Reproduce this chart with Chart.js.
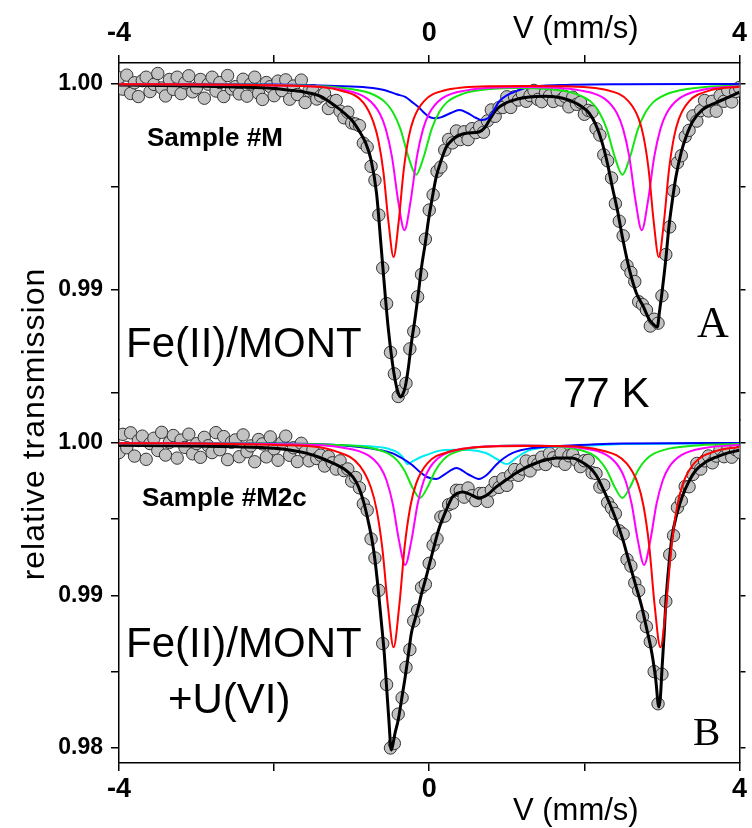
<!DOCTYPE html>
<html>
<head>
<meta charset="utf-8">
<script src="https://cdn.jsdelivr.net/npm/chart.js@4.4.1/dist/chart.umd.min.js"></script>
<style>
  html, body { margin: 0; padding: 0; background: #fff; }
  #wrap { width: 752px; height: 828px; }
</style>
</head>
<body>
<div id="wrap"><canvas id="spectra" width="752" height="828"></canvas></div>
<script>
const SANS = "'Liberation Sans', Arial, Helvetica, sans-serif";
const SERIF = "'Liberation Serif', 'Times New Roman', serif";
Chart.defaults.font.family = SANS;
Chart.defaults.color = '#000';

// Velocity channels (mm/s), shared by both spectra
const velocity = [
  -4,-3.95,-3.9,-3.85,-3.8,-3.75,-3.7,-3.65,-3.6,-3.55,
  -3.5,-3.45,-3.4,-3.35,-3.3,-3.25,-3.2,-3.15,-3.1,-3.05,
  -3,-2.95,-2.9,-2.85,-2.8,-2.75,-2.7,-2.65,-2.6,-2.55,
  -2.5,-2.45,-2.4,-2.35,-2.3,-2.25,-2.2,-2.15,-2.1,-2.05,
  -2,-1.95,-1.9,-1.85,-1.8,-1.75,-1.7,-1.65,-1.6,-1.55,
  -1.5,-1.45,-1.4,-1.35,-1.3,-1.25,-1.2,-1.15,-1.1,-1.05,
  -1,-0.95,-0.9,-0.85,-0.8,-0.75,-0.7,-0.65,-0.6,-0.55,
  -0.5,-0.45,-0.4,-0.35,-0.3,-0.25,-0.2,-0.15,-0.1,-0.05,
  0,0.05,0.1,0.15,0.2,0.25,0.3,0.35,0.4,0.45,
  0.5,0.55,0.6,0.65,0.7,0.75,0.8,0.85,0.9,0.95,
  1,1.05,1.1,1.15,1.2,1.25,1.3,1.35,1.4,1.45,
  1.5,1.55,1.6,1.65,1.7,1.75,1.8,1.85,1.9,1.95,
  2,2.05,2.1,2.15,2.2,2.25,2.3,2.35,2.4,2.45,
  2.5,2.55,2.6,2.65,2.7,2.75,2.8,2.85,2.9,2.95,
  3,3.05,3.1,3.15,3.2,3.25,3.3,3.35,3.4,3.45,
  3.5,3.55,3.6,3.65,3.7,3.75,3.8,3.85,3.9,3.95,
  4
];

// Sample #M, measured relative transmission
const transA = [
  1.0003,.99975,1.00043,.99954,1.00006,.99939,1.00016,1.00033,.99963,.99998,
  1.00051,.99981,.99942,1.00022,.99974,1.00033,.99953,1.00006,1.0004,.99962,
  .99982,1.00022,.99931,.99999,1.00033,.99966,1.00007,.99939,1.00041,.99976,
  .99987,.99952,1.00023,.99941,1.0,1.00033,.99955,.99925,1.00007,.99987,
  .99943,1.00014,.99968,1.0002,.99926,.9999,.99949,1.00019,.9991,.99967,
  .99968,.99927,.99942,.99954,.99881,.99915,.9992,.99868,.99836,.99863,
  .99811,.99806,.99798,.99713,.99694,.996,.99533,.99364,.99107,.98934,
  .98697,.98593,.98483,.98512,.98547,.98714,.98799,.98967,.99075,.99247,
  .99388,.99462,.99576,.99597,.99679,.99731,.99714,.99772,.9973,.99768,
  .9973,.99783,.99764,.99793,.99766,.99821,.99874,.99843,.99885,.99886,
  .99938,.99886,.99938,.99922,.99953,.99916,.99944,.99969,.99925,.99914,
  .99958,.99943,.99915,.99964,.99922,.9994,.99889,.99936,.99901,.99911,
  .99853,.99872,.99865,.99783,.99752,.99656,.99627,.99544,.99419,.99334,
  .99263,.99118,.99085,.99041,.98943,.98929,.98903,.98825,.98858,.98839,
  .98972,.99172,.99306,.99482,.99618,.99652,.99745,.99775,.99845,.9982,
  .99871,.9992,.99869,.99916,.99868,.99944,.99916,.99969,.99913,.99963,
  .99983
];

// Sample #M2c, measured relative transmission
const transB = [
  .99937,1.00057,.99969,1.00067,.99914,1.00016,1.00045,.99893,.99996,1.00031,
  .99951,1.0007,.99921,1.00004,1.00049,.99901,1.00019,.99971,1.00058,.99929,
  .99996,.99906,1.00037,.99982,.99937,1.00068,.99956,1.00042,.99891,1.00005,
  1.0002,.9991,1.00053,.99943,.99981,.99877,1.00023,.99994,.99909,1.0004,
  .99962,.99887,1.00004,1.00045,.99919,.99969,.99878,.99998,.99941,.99883,
  .99955,.99898,.9992,.99849,.99911,.9987,.99829,.99883,.99819,.9983,
  .9975,.99774,.99706,.99601,.99559,.99371,.99246,.99034,.98685,.98416,
  .98,.9803,.98222,.98329,.98529,.98645,.98833,.98903,.99052,.99073,
  .99211,.9933,.99371,.99515,.99521,.99595,.99606,.9969,.99689,.99645,
  .99705,.99654,.99622,.99669,.99669,.99617,.99691,.99741,.99709,.99765,
  .99722,.99791,.99826,.99788,.99829,.99882,.99817,.9988,.99862,.99907,
  .99859,.99931,.99903,.99883,.99934,.9986,.99916,.99925,.99885,.99845,
  .99884,.99886,.99805,.998,.99711,.99724,.9961,.99574,.99537,.99424,
  .99403,.99236,.99193,.99083,.99032,.98863,.98796,.98697,.98501,.9829,
  .98484,.98962,.99268,.99393,.99577,.99621,.99715,.99713,.99794,.99866,
  .99829,.99883,.99915,.9987,.99914,.99959,.9991,.99962,.99907,.99956,
  .99939
];

// Fitted envelopes and subspectra, [velocity, transmission]
const fitA = [[-4,.99995],[-3,.9999],[-2.5,.99985],[-2,.99978],[-1.8,.9997],[-1.6,.9996],[-1.4,.9994],[-1.2,.9989],[-1.1,.9986],[-1,.99825],[-0.9,.9977],[-0.82,.99714],[-0.75,.99631],[-0.68,.99471],[-0.62,.99209],[-0.57,.98985],[-0.53,.9882],[-0.48,.9866],[-0.44,.98563],[-0.4,.985],[-0.37,.98481],[-0.34,.98495],[-0.31,.98529],[-0.27,.9862],[-0.23,.98743],[-0.18,.9887],[-0.14,.98985],[-0.1,.9911],[-0.05,.9923],[-0.01,.9934],[0.04,.9945],[0.09,.99549],[0.15,.99625],[0.22,.99694],[0.3,.9973],[0.39,.99752],[0.5,.99762],[0.64,.99767],[0.72,.9979],[0.8,.9984],[0.86,.99874],[1,.9991],[1.15,.99928],[1.29,.99937],[1.5,.9994],[1.71,.99932],[1.9,.99905],[2.06,.99859],[2.15,.998],[2.23,.99714],[2.3,.9961],[2.36,.995],[2.43,.9938],[2.49,.99257],[2.58,.991],[2.67,.98985],[2.76,.9892],[2.84,.98854],[2.9,.9883],[2.94,.9882],[2.97,.989],[3,.98985],[3.05,.9915],[3.09,.99306],[3.14,.9945],[3.18,.99549],[3.25,.9967],[3.31,.99743],[3.4,.9982],[3.52,.99874],[3.7,.9991],[3.87,.99937],[4,.99961]];
const redA = [[-4,.99999],[-1.76,.99991],[-1.11,.99965],[-0.85,.9991],[-0.72,.99815],[-0.655,.99725],[-0.59,.9957],[-0.525,.99328],[-0.46,.9916],[-0.395,.99328],[-0.33,.9958],[-0.265,.99741],[-0.2,.99832],[-0.07,.99916],[0.19,.99968],[0.84,.99989],[1.25,.9999],[1.66,.99989],[2.31,.99968],[2.57,.99916],[2.7,.99832],[2.765,.99741],[2.83,.9958],[2.895,.99328],[2.96,.9916],[3.025,.99328],[3.09,.9958],[3.155,.99741],[3.22,.99832],[3.35,.99916],[3.61,.99968],[4,.99987]];
const magentaA = [[-4,.99999],[-1.92,.99993],[-1.12,.99972],[-0.8,.99929],[-0.64,.99858],[-0.56,.99781],[-0.48,.99645],[-0.4,.99432],[-0.32,.9929],[-0.24,.99432],[-0.16,.99645],[-0.08,.99781],[0,.99858],[0.16,.99929],[0.48,.99969],[1.21,.99985],[1.94,.99969],[2.26,.99929],[2.42,.99858],[2.5,.99781],[2.58,.99645],[2.66,.99432],[2.74,.9929],[2.82,.99432],[2.9,.99645],[2.98,.99781],[3.06,.99858],[3.22,.99929],[3.54,.99973],[4,.99989]];
const greenA = [[-4,.99999],[-2.17,.99996],[-1.17,.99983],[-0.77,.99956],[-0.57,.99912],[-0.47,.99864],[-0.37,.9978],[-0.27,.99648],[-0.17,.9956],[-0.07,.99648],[0.03,.9978],[0.13,.99864],[0.23,.99912],[0.43,.99952],[0.83,.99977],[1.16,.99981],[1.49,.99977],[1.89,.99952],[2.09,.99912],[2.19,.99864],[2.29,.9978],[2.39,.99648],[2.49,.9956],[2.59,.99648],[2.69,.9978],[2.79,.99864],[2.89,.99912],[3.09,.99955],[3.49,.99983],[4,.99992]];
const blueA = [[-4,1],[-2,.99997],[-1.2,.9999],[-0.8,.99983],[-0.57,.9997],[-0.42,.9995],[-0.31,.99937],[-0.22,.99912],[-0.14,.99888],[-0.06,.99858],[0,.9984],[0.06,.99834],[0.15,.99838],[0.27,.99858],[0.39,.99874],[0.5,.99858],[0.6,.99836],[0.68,.99825],[0.76,.99835],[0.82,.99865],[0.9,.99915],[1,.99945],[1.1,.99962],[1.29,.99985],[1.71,.99995],[2.5,.99999],[4,1]];

const fitB = [[-4,.99985],[-3,.9998],[-2.5,.99975],[-2,.99965],[-1.8,.99954],[-1.6,.99935],[-1.43,.99908],[-1.25,.9987],[-1.08,.99823],[-0.98,.99775],[-0.91,.99711],[-0.85,.9962],[-0.79,.99495],[-0.74,.9937],[-0.7,.99233],[-0.66,.9905],[-0.62,.98839],[-0.58,.9862],[-0.55,.984],[-0.52,.9818],[-0.49,.97987],[-0.47,.9802],[-0.44,.981],[-0.4,.98184],[-0.35,.9834],[-0.31,.98466],[-0.27,.9861],[-0.23,.98754],[-0.18,.9885],[-0.14,.98925],[-0.1,.9901],[-0.05,.99102],[0,.992],[0.05,.99298],[0.12,.9943],[0.22,.99561],[0.3,.99646],[0.36,.9967],[0.43,.99679],[0.52,.99665],[0.64,.99639],[0.75,.9966],[0.86,.99711],[1,.9976],[1.12,.99803],[1.25,.9984],[1.38,.99869],[1.5,.99888],[1.64,.99902],[1.84,.99902],[1.95,.9988],[2.06,.99843],[2.15,.9979],[2.23,.99711],[2.32,.9961],[2.41,.99495],[2.5,.9936],[2.58,.99213],[2.66,.9907],[2.74,.98925],[2.8,.9879],[2.87,.98623],[2.92,.9845],[2.96,.98269],[2.98,.9833],[3,.98511],[3.03,.9876],[3.05,.98951],[3.09,.992],[3.13,.99384],[3.19,.9953],[3.26,.99646],[3.35,.9975],[3.44,.99823],[3.55,.9987],[3.7,.99908],[3.85,.99935],[4,.99952]];
const redB = [[-4,.99999],[-1.91,.99986],[-1.185,.99942],[-0.895,.9985],[-0.75,.99705],[-0.6775,.9956],[-0.605,.9931],[-0.5325,.98928],[-0.46,.9866],[-0.3875,.98928],[-0.315,.9933],[-0.2425,.99587],[-0.17,.99732],[-0.025,.99866],[0.265,.99944],[0.9,.99979],[1.26,.99981],[1.6,.9998],[2.255,.99948],[2.545,.99866],[2.69,.99732],[2.7625,.99587],[2.835,.9933],[2.9075,.98928],[2.98,.9866],[3.0525,.98928],[3.125,.9933],[3.1975,.99587],[3.27,.99732],[3.415,.99866],[3.705,.99948],[4,.99973]];
const magentaB = [[-4,.99999],[-1.91,.99992],[-1.11,.99969],[-0.79,.9992],[-0.63,.9984],[-0.55,.99754],[-0.47,.996],[-0.39,.9936],[-0.31,.992],[-0.23,.9936],[-0.15,.996],[-0.07,.99754],[0.01,.9984],[0.17,.9992],[0.49,.99966],[1.23,.99983],[1.97,.99966],[2.29,.9992],[2.45,.9984],[2.53,.99754],[2.61,.996],[2.69,.9936],[2.77,.992],[2.85,.9936],[2.93,.996],[3.01,.99754],[3.09,.9984],[3.25,.9992],[3.57,.99969],[4,.99987]];
const greenB = [[-4,.99999],[-2.12,.99996],[-1.12,.99986],[-0.72,.99964],[-0.52,.99928],[-0.42,.99889],[-0.32,.9982],[-0.22,.99712],[-0.12,.9964],[-0.02,.99712],[0.08,.9982],[0.18,.99889],[0.28,.99928],[0.48,.9996],[0.88,.99981],[1.185,.99984],[1.49,.99981],[1.89,.9996],[2.09,.99928],[2.19,.99889],[2.29,.9982],[2.39,.99712],[2.49,.9964],[2.59,.99712],[2.69,.9982],[2.79,.99889],[2.89,.99928],[3.09,.99963],[3.49,.99986],[4,.99993]];
const blueB = [[-4,1],[-2,.99997],[-1.3,.9999],[-0.9,.99974],[-0.65,.99955],[-0.48,.99934],[-0.35,.999],[-0.22,.99856],[-0.12,.9981],[-0.03,.99777],[0.09,.99764],[0.2,.99795],[0.35,.99836],[0.5,.99795],[0.64,.99764],[0.75,.99795],[0.86,.99856],[0.96,.999],[1.07,.99934],[1.33,.99967],[1.68,.9998],[2.5,.99997],[4,1]];
const cyanB = [[-4,.99998],[-2,.99993],[-1.3,.99987],[-0.9,.99982],[-0.6,.9997],[-0.48,.99954],[-0.4,.99935],[-0.34,.99905],[-0.28,.99862],[-0.22,.99878],[-0.12,.99905],[-0.04,.99921],[0.17,.99952],[0.35,.99955],[0.52,.99954],[0.73,.99934],[0.87,.99895],[1,.99862],[1.12,.99902],[1.22,.99935],[1.29,.99952],[1.59,.99974],[1.93,.9998],[2.5,.99993],[4,.99998]];

// Tick values
const xTicks = [-4, -2, 0, 2, 4];
const xLabelled = [-4, 0, 4];
const yTicksA = [0.985, 0.99, 0.995, 1.0];
const yLabelledA = [0.99, 1.0];
const yTicksB = [0.98, 0.985, 0.99, 0.995, 1.0];
const yLabelledB = [0.98, 0.99, 1.0];

const toXY = pairs => pairs.map(p => ({ x: p[0], y: p[1] }));
const measured = vals => vals.map((t, i) => ({ x: velocity[i], y: t }));

function pointSet(vals, axis) {
    return {
        data: measured(vals),
        xAxisID: 'x',
        yAxisID: axis,
        showLine: false,
        pointRadius: 6.2,
        pointBackgroundColor: '#c2c2c2',
        pointBorderColor: '#333',
        pointBorderWidth: 1,
        order: 3
    };
}

function curve(pairs, axis, color, width, order) {
    return {
        data: toXY(pairs),
        xAxisID: 'x',
        yAxisID: axis,
        borderColor: color,
        borderWidth: width,
        pointRadius: 0,
        cubicInterpolationMode: 'monotone',
        fill: false,
        order: order
    };
}

// Frame axes: outward ticks only, no grid inside
function xAxis(position, height, pad) {
    return {
        type: 'linear', axis: 'x', position: position, min: -4, max: 4,
        border: { color: '#000', width: 1.5 },
        grid: { drawOnChartArea: false, tickLength: 8, color: '#000', lineWidth: 1.5 },
        ticks: {
            autoSkip: false, maxRotation: 0, minRotation: 0, padding: pad,
            font: { size: 27, weight: 'bold' },
            callback: v => xLabelled.includes(v) ? String(v) : ''
        },
        afterBuildTicks: s => { s.ticks = xTicks.map(v => ({ value: v })); },
        afterFit: s => { s.height = height; }
    };
}

function yAxis(position, stack, weight, share, min, max, marks, labelled, width) {
    return {
        type: 'linear', axis: 'y', position: position, min: min, max: max,
        stack: stack, stackWeight: share, weight: weight,
        border: { color: '#000', width: 1.5 },
        grid: { drawOnChartArea: false, tickLength: position === 'left' ? 8 : 6, color: '#000', lineWidth: 1.5 },
        ticks: {
            display: position === 'left', autoSkip: false, padding: 8,
            font: { size: 23, weight: 'bold' },
            callback: v => labelled.includes(v) ? v.toFixed(2) : ''
        },
        afterBuildTicks: s => { s.ticks = marks.map(v => ({ value: v })); },
        afterFit: s => { s.width = width; }
    };
}

// Free text on the figure
const figureText = {
    id: 'figureText',
    afterDraw(chart) {
        const ctx = chart.ctx;
        ctx.save();
        ctx.fillStyle = '#000';
        ctx.textAlign = 'left';
        ctx.textBaseline = 'alphabetic';
        const put = (text, x, y, font) => { ctx.font = font; ctx.fillText(text, x, y); };
        put('V (mm/s)', 513, 38, '31px ' + SANS);
        put('V (mm/s)', 513, 820, '31px ' + SANS);
        put('Sample #M', 147, 146, 'bold 26px ' + SANS);
        put('Fe(II)/MONT', 126, 357, '42px ' + SANS);
        put('77 K', 563, 407, '42px ' + SANS);
        put('A', 697, 337, '44px ' + SERIF);
        put('Sample #M2c', 142, 506, 'bold 26px ' + SANS);
        put('Fe(II)/MONT', 126, 657, '42px ' + SANS);
        put('+U(VI)', 168, 713, '42px ' + SANS);
        put('B', 693, 745, '41px ' + SERIF);

        // y axis title, rotated
        ctx.translate(44, 424);
        ctx.rotate(-Math.PI / 2);
        ctx.textAlign = 'center';
        ctx.font = '32px ' + SANS;
        ctx.letterSpacing = '1px';
        ctx.fillText('relative transmission', 0, 0);
        ctx.letterSpacing = '0px';
        ctx.restore();
    }
};

const ctx = document.getElementById('spectra').getContext('2d');
new Chart(ctx, {
    type: 'line',
    data: {
        datasets: [
            curve(redA, 'yA', '#ff0000', 2, 1),
            curve(magentaA, 'yA', '#ff00ff', 2, 1),
            curve(greenA, 'yA', '#14e614', 2, 1),
            curve(blueA, 'yA', '#0000ff', 2, 1),
            curve(fitA, 'yA', '#000', 3, 2),
            pointSet(transA, 'yA'),
            curve(redB, 'yB', '#ff0000', 2, 1),
            curve(magentaB, 'yB', '#ff00ff', 2, 1),
            curve(greenB, 'yB', '#14e614', 2, 1),
            curve(blueB, 'yB', '#0000ff', 2, 1),
            curve(cyanB, 'yB', '#00ecf5', 2, 1),
            curve(fitB, 'yB', '#000', 3, 2),
            pointSet(transB, 'yB')
        ]
    },
    options: {
        responsive: false,
        animation: false,
        events: [],
        layout: { padding: 0 },
        plugins: { legend: { display: false }, tooltip: { enabled: false } },
        scales: {
            x: xAxis('bottom', 65, 2),
            xTop: xAxis('top', 63, 5),
            yA: yAxis('left', 'L', 2, 357, 0.983689, 1.001019, yTicksA, yLabelledA, 119),
            yB: yAxis('left', 'L', 1, 343, 0.979016, 1.001508, yTicksB, yLabelledB, 119),
            yAR: yAxis('right', 'R', 1, 357, 0.983689, 1.001019, yTicksA, yLabelledA, 12),
            yBR: yAxis('right', 'R', 2, 343, 0.979016, 1.001508, yTicksB, yLabelledB, 12)
        }
    },
    plugins: [figureText]
});
</script>
</body>
</html>
